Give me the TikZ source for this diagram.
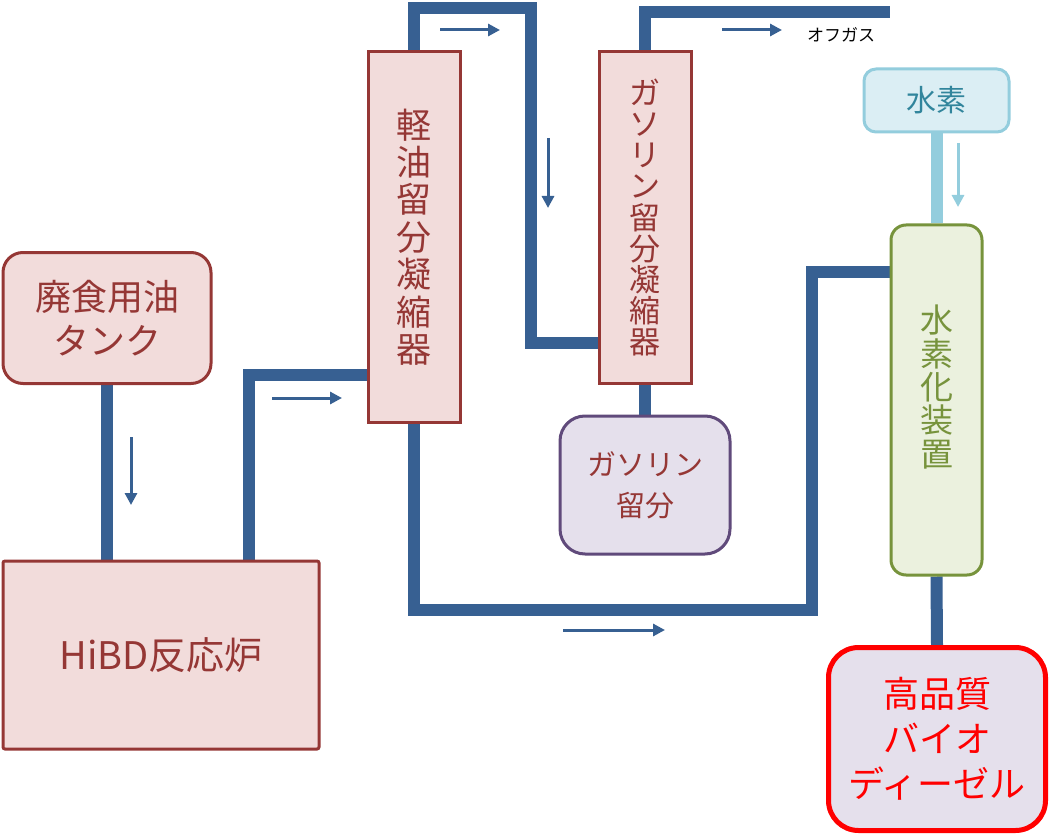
\documentclass[tikz,border=0pt]{standalone}
\usepackage{fontspec}
\setmainfont{Noto Sans CJK JP}
\usetikzlibrary{arrows.meta,backgrounds}

\definecolor{pipeblue}{RGB}{55,96,146}
\definecolor{boxred}{RGB}{149,55,53}
\definecolor{boxpink}{RGB}{242,220,219}
\definecolor{violetline}{RGB}{96,74,123}
\definecolor{violetfill}{RGB}{229,224,236}
\definecolor{hline}{RGB}{147,205,221}
\definecolor{hfill}{RGB}{219,238,244}
\definecolor{htext}{RGB}{49,133,156}
\definecolor{gline}{RGB}{119,147,60}
\definecolor{gfill}{RGB}{235,241,222}

\tikzset{
  pipe/.style={draw=pipeblue, line width=12pt},
  flow/.style={draw=pipeblue, line width=3pt, -{Triangle[length=12pt,width=12pt]}},
  unit/.style={draw=boxred, fill=boxpink, line width=3pt, text=boxred, inner sep=0pt, align=center},
}

\begin{document}
\begin{tikzpicture}[x=1pt, y=-1pt]
    \useasboundingbox (0,0) rectangle (1052,837);

    % Apparaten
    \node[unit, rounded corners=20pt, minimum width=208pt, minimum height=131pt,
          font={\fontsize{36}{44}\selectfont}] (tank) at (107,318) {廃食用油\\タンク};
    \node[unit, rounded corners=2pt, minimum width=316pt, minimum height=188pt,
          font={\fontsize{38}{44}\selectfont}] (reactor) at (161,655) {HiBD反応炉};
    \node[unit, minimum width=92pt, minimum height=370pt,
          font={\fontsize{35}{37.4}\selectfont}] (lcond) at (414,237) {軽\\油\\留\\分\\凝\\縮\\器};
    \node[unit, minimum width=92pt, minimum height=331pt,
          font={\fontsize{31}{31.2}\selectfont}] (gcond) at (645,217.5) {ガ\\ソ\\リ\\ン\\留\\分\\凝\\縮\\器};
    \node[unit, draw=violetline, fill=violetfill, rounded corners=25pt,
          minimum width=170pt, minimum height=138pt,
          font={\fontsize{29}{41}\selectfont}] (gfrac) at (645,485) {ガソリン\\留分};
    \node[draw=hline, fill=hfill, line width=3pt, rounded corners=12pt, inner sep=0pt,
          minimum width=145pt, minimum height=63pt, text=htext,
          font={\fontsize{30}{36}\selectfont}] (h2) at (936.5,100.5) {水素};
    \node[draw=gline, fill=gfill, line width=3pt, rounded corners=15pt, inner sep=0pt,
          minimum width=91pt, minimum height=350pt,
          label={[text=gline, align=center, yshift=13pt,
                  font={\fontsize{33}{33.4}\selectfont}]center:水\\素\\化\\装\\置}] (hyd) at (936.5,400) {};
    \node[draw=red, fill=violetfill, line width=5pt, rounded corners=30pt, inner sep=0pt,
          minimum width=217pt, minimum height=183pt, text=red, align=center,
          font={\fontsize{36}{45}\selectfont}] (bio) at (937,739) {高品質\\バイオ\\ディーゼル};
    \node[font={\fontsize{17}{20}\selectfont}] (offgas) at (841,35) {オフガス};

    % Knikpunten
    \coordinate (r1) at (249,375);
    \coordinate (t1) at (531,8);
    \coordinate (t2) at (531,343);
    \coordinate (t3) at (890,12);
    \coordinate (b1) at (812,610);
    \coordinate (b2) at (812,272);

    % Leidingen
    \begin{scope}[on background layer]
        \draw[pipe] (tank.south) -- (tank.south |- reactor.north);
        \draw[pipe] (reactor.north -| r1) |- (lcond.west |- r1);
        \draw[pipe] (lcond.north) |- (t1) |- (gcond.west |- t2);
        \draw[pipe] (gcond.north) |- (t3);
        \draw[pipe] (gcond.south) -- (gfrac.north);
        \draw[pipe] (lcond.south) |- (b1) |- (hyd.west |- b2);
        \draw[pipe, draw=hline] (h2.south) -- (hyd.north);
        \draw[pipe] (hyd.south) -- (bio.north);
    \end{scope}

    % Stroomrichting
    \draw[flow] (131,437) -- (131,505);
    \draw[flow] (272,398) -- (342,398);
    \draw[flow] (440,30) -- (500,30);
    \draw[flow] (548,138) -- (548,208);
    \draw[flow] (722,30) -- (782,30);
    \draw[flow] (563,630) -- (665,630);
    \draw[flow, draw=hline] (958,143) -- (958,207);
\end{tikzpicture}
\end{document}
